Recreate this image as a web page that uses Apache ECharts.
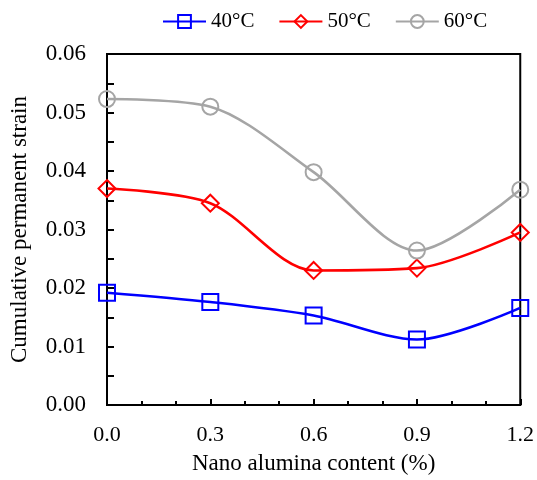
<!DOCTYPE html>
<html>
<head>
<meta charset="utf-8">
<script src="https://cdn.jsdelivr.net/npm/echarts@6/dist/echarts.min.js"></script>
<style>html,body{margin:0;padding:0;background:#fff}#c{width:537px;height:480px}</style>
</head>
<body>
<div id="c"></div>
<script>
const contents = [0, 0.3, 0.6, 0.9, 1.2];
const strain40 = [0.0192, 0.0176, 0.0153, 0.0112, 0.0166];
const strain50 = [0.0370, 0.0345, 0.0230, 0.0234, 0.0295];
const strain60 = [0.0523, 0.0510, 0.0398, 0.0264, 0.0368];
const seriesNames = ['40°C', '50°C', '60°C'];
const xTitle = 'Nano alumina content (%)';
const yTitle = 'Cumulative permanent strain';

const font = 'Liberation Serif, Times New Roman, serif';
function pairs(ys){ return contents.map((x,i)=>[x, ys[i]]); }
function mk(name, ys, color, symbol, size){
  return {
    name, type:'line', data:pairs(ys), smooth:0.3,
    symbol, symbolSize:size,
    lineStyle:{color, width:2.6},
    itemStyle:{color:'transparent', borderColor:color, borderWidth:2},
    color
  };
}
const chart = echarts.init(document.getElementById('c'), null, {renderer:'canvas'});
chart.setOption({
  animation:false,
  backgroundColor:'#fff',
  textStyle:{fontFamily:font},
  legend:{
    top:6, left:157, itemWidth:43, itemHeight:16, itemGap:24,
    textStyle:{fontFamily:font, fontSize:21, color:'#000'},
    data:seriesNames
  },
  grid:{left:105, right:15, top:54, bottom:73, show:true, borderColor:'#000', borderWidth:2, backgroundColor:'transparent'},
  xAxis:{
    type:'value', min:0, max:1.2, interval:0.3,
    name:xTitle, nameLocation:'middle', nameGap:47,
    nameTextStyle:{fontFamily:font, fontSize:23, color:'#000'},
    axisLine:{show:true, lineStyle:{color:'#000', width:2}},
    axisTick:{show:true, inside:true, length:6, lineStyle:{color:'#000', width:2}},
    minorTick:{show:true, splitNumber:3, length:4, lineStyle:{color:'#000', width:2}},
    splitLine:{show:false},
    axisLabel:{fontFamily:font, fontSize:22, color:'#000', margin:19, formatter:v=>v.toFixed(1)}
  },
  yAxis:{
    type:'value', min:0, max:0.06, interval:0.01,
    name:yTitle, nameLocation:'middle', nameGap:76, nameRotate:90,
    nameTextStyle:{fontFamily:font, fontSize:23, color:'#000'},
    axisLine:{show:true, lineStyle:{color:'#000', width:2}},
    axisTick:{show:true, inside:true, length:7, lineStyle:{color:'#000', width:2}},
    minorTick:{show:true, splitNumber:2, length:7, lineStyle:{color:'#000', width:2}},
    splitLine:{show:false},
    axisLabel:{fontFamily:font, fontSize:23, color:'#000', margin:21, formatter:v=>v.toFixed(2)}
  },
  series:[
    mk(seriesNames[0], strain40, '#0000FF', 'rect', 16),
    mk(seriesNames[1], strain50, '#FF0000', 'diamond', 17),
    mk(seriesNames[2], strain60, '#A5A5A5', 'circle', 16)
  ]
});
</script>
</body>
</html>
